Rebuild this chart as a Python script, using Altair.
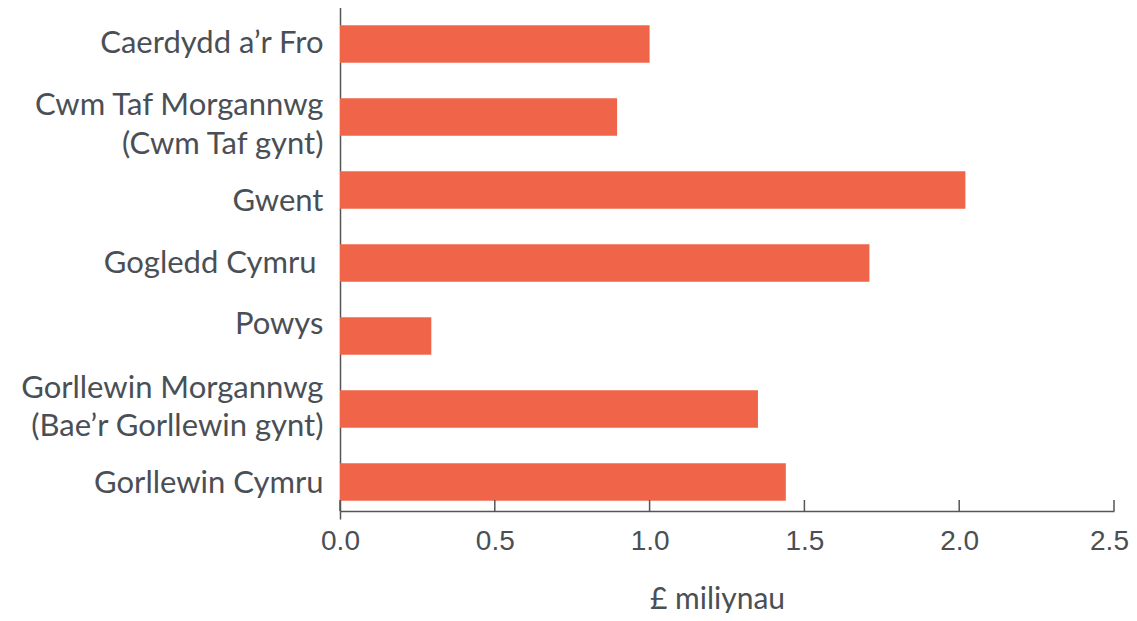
import altair as alt
import pandas as pd

regions = [
    "Caerdydd a’r Fro",
    "Cwm Taf Morgannwg|(Cwm Taf gynt)",
    "Gwent",
    "Gogledd Cymru",
    "Powys",
    "Gorllewin Morgannwg|(Bae’r Gorllewin gynt)",
    "Gorllewin Cymru",
]
values = [1.0, 0.895, 2.02, 1.71, 0.295, 1.35, 1.44]
x_ticks = [0.0, 0.5, 1.0, 1.5, 2.0, 2.5]

df = pd.DataFrame({"region": regions, "value": values})
ticks_df = pd.DataFrame({"t": x_ticks})

W, H = 774, 503
TEXT = "#4a4f55"
LINE = "#555555"

x_scale = alt.Scale(domain=[0, 2.5], nice=False)

label_offset = {
    "condition": [
        {"test": "indexof(datum.value, 'Caerdydd') === 0", "value": 0},
        {"test": "indexof(datum.value, 'Cwm Taf') === 0", "value": -11},
        {"test": "datum.value === 'Gwent'", "value": 12},
        {"test": "indexof(datum.value, 'Gogledd') === 0", "value": 1},
        {"test": "datum.value === 'Powys'", "value": -11},
        {"test": "indexof(datum.value, 'Gorllewin Morgannwg') === 0", "value": -20},
    ],
    "value": 2,
}
label_padding = {
    "condition": {"test": "indexof(datum.value, 'Gogledd') === 0", "value": 24},
    "value": 17,
}
x_label_offset = {
    "condition": {"test": "datum.value >= 2.5", "value": -5},
    "value": 0,
}

bars = alt.Chart(df).mark_bar(color="#F0644A").encode(
    x=alt.X(
        "value:Q",
        scale=x_scale,
        axis=alt.Axis(
            values=x_ticks,
            format=".1f",
            ticks=False,
            grid=False,
            domainColor=LINE,
            domainWidth=1.5,
            labelFont="Liberation Sans",
            labelFontSize=28,
            labelColor=TEXT,
            labelPadding=16,
            labelFlush=False,
            labelOffset=x_label_offset,
            title="£ miliynau",
            titleFont="Lato",
            titleFontSize=30,
            titleFontWeight="normal",
            titleColor=TEXT,
            titleX=W / 2 - 10,
            titleY=97,
            titleAlign="center",
            titleBaseline="alphabetic",
        ),
    ),
    y=alt.Y(
        "region:N",
        sort=None,
        scale=alt.Scale(paddingInner=0.486, paddingOuter=0.25, range=[-1, 511]),
        axis=alt.Axis(
            title=None,
            ticks=False,
            domainColor=LINE,
            domainWidth=1.5,
            labelExpr="split(datum.label, '|')",
            labelFont="Lato",
            labelFontSize=31,
            labelColor=TEXT,
            labelPadding=label_padding,
            labelOffset=label_offset,
            labelLineHeight=38.5,
            labelLimit=400,
        ),
    ),
)

tick_marks = alt.Chart(ticks_df).mark_rule(color=LINE, strokeWidth=1.5).encode(
    x=alt.X("t:Q", scale=x_scale),
    y=alt.value(H - 11),
    y2=alt.value(H),
)

chart = (
    alt.layer(bars, tick_marks)
    .properties(
        width=W,
        height=H,
        background="white",
        autosize=alt.AutoSizeParams(type="none"),
        padding={"left": 332, "top": 0, "right": 15, "bottom": 102},
    )
    .configure_view(strokeWidth=0, stroke="transparent")
)

chart.save("out.html", embed_options={"renderer": "svg", "actions": False})
